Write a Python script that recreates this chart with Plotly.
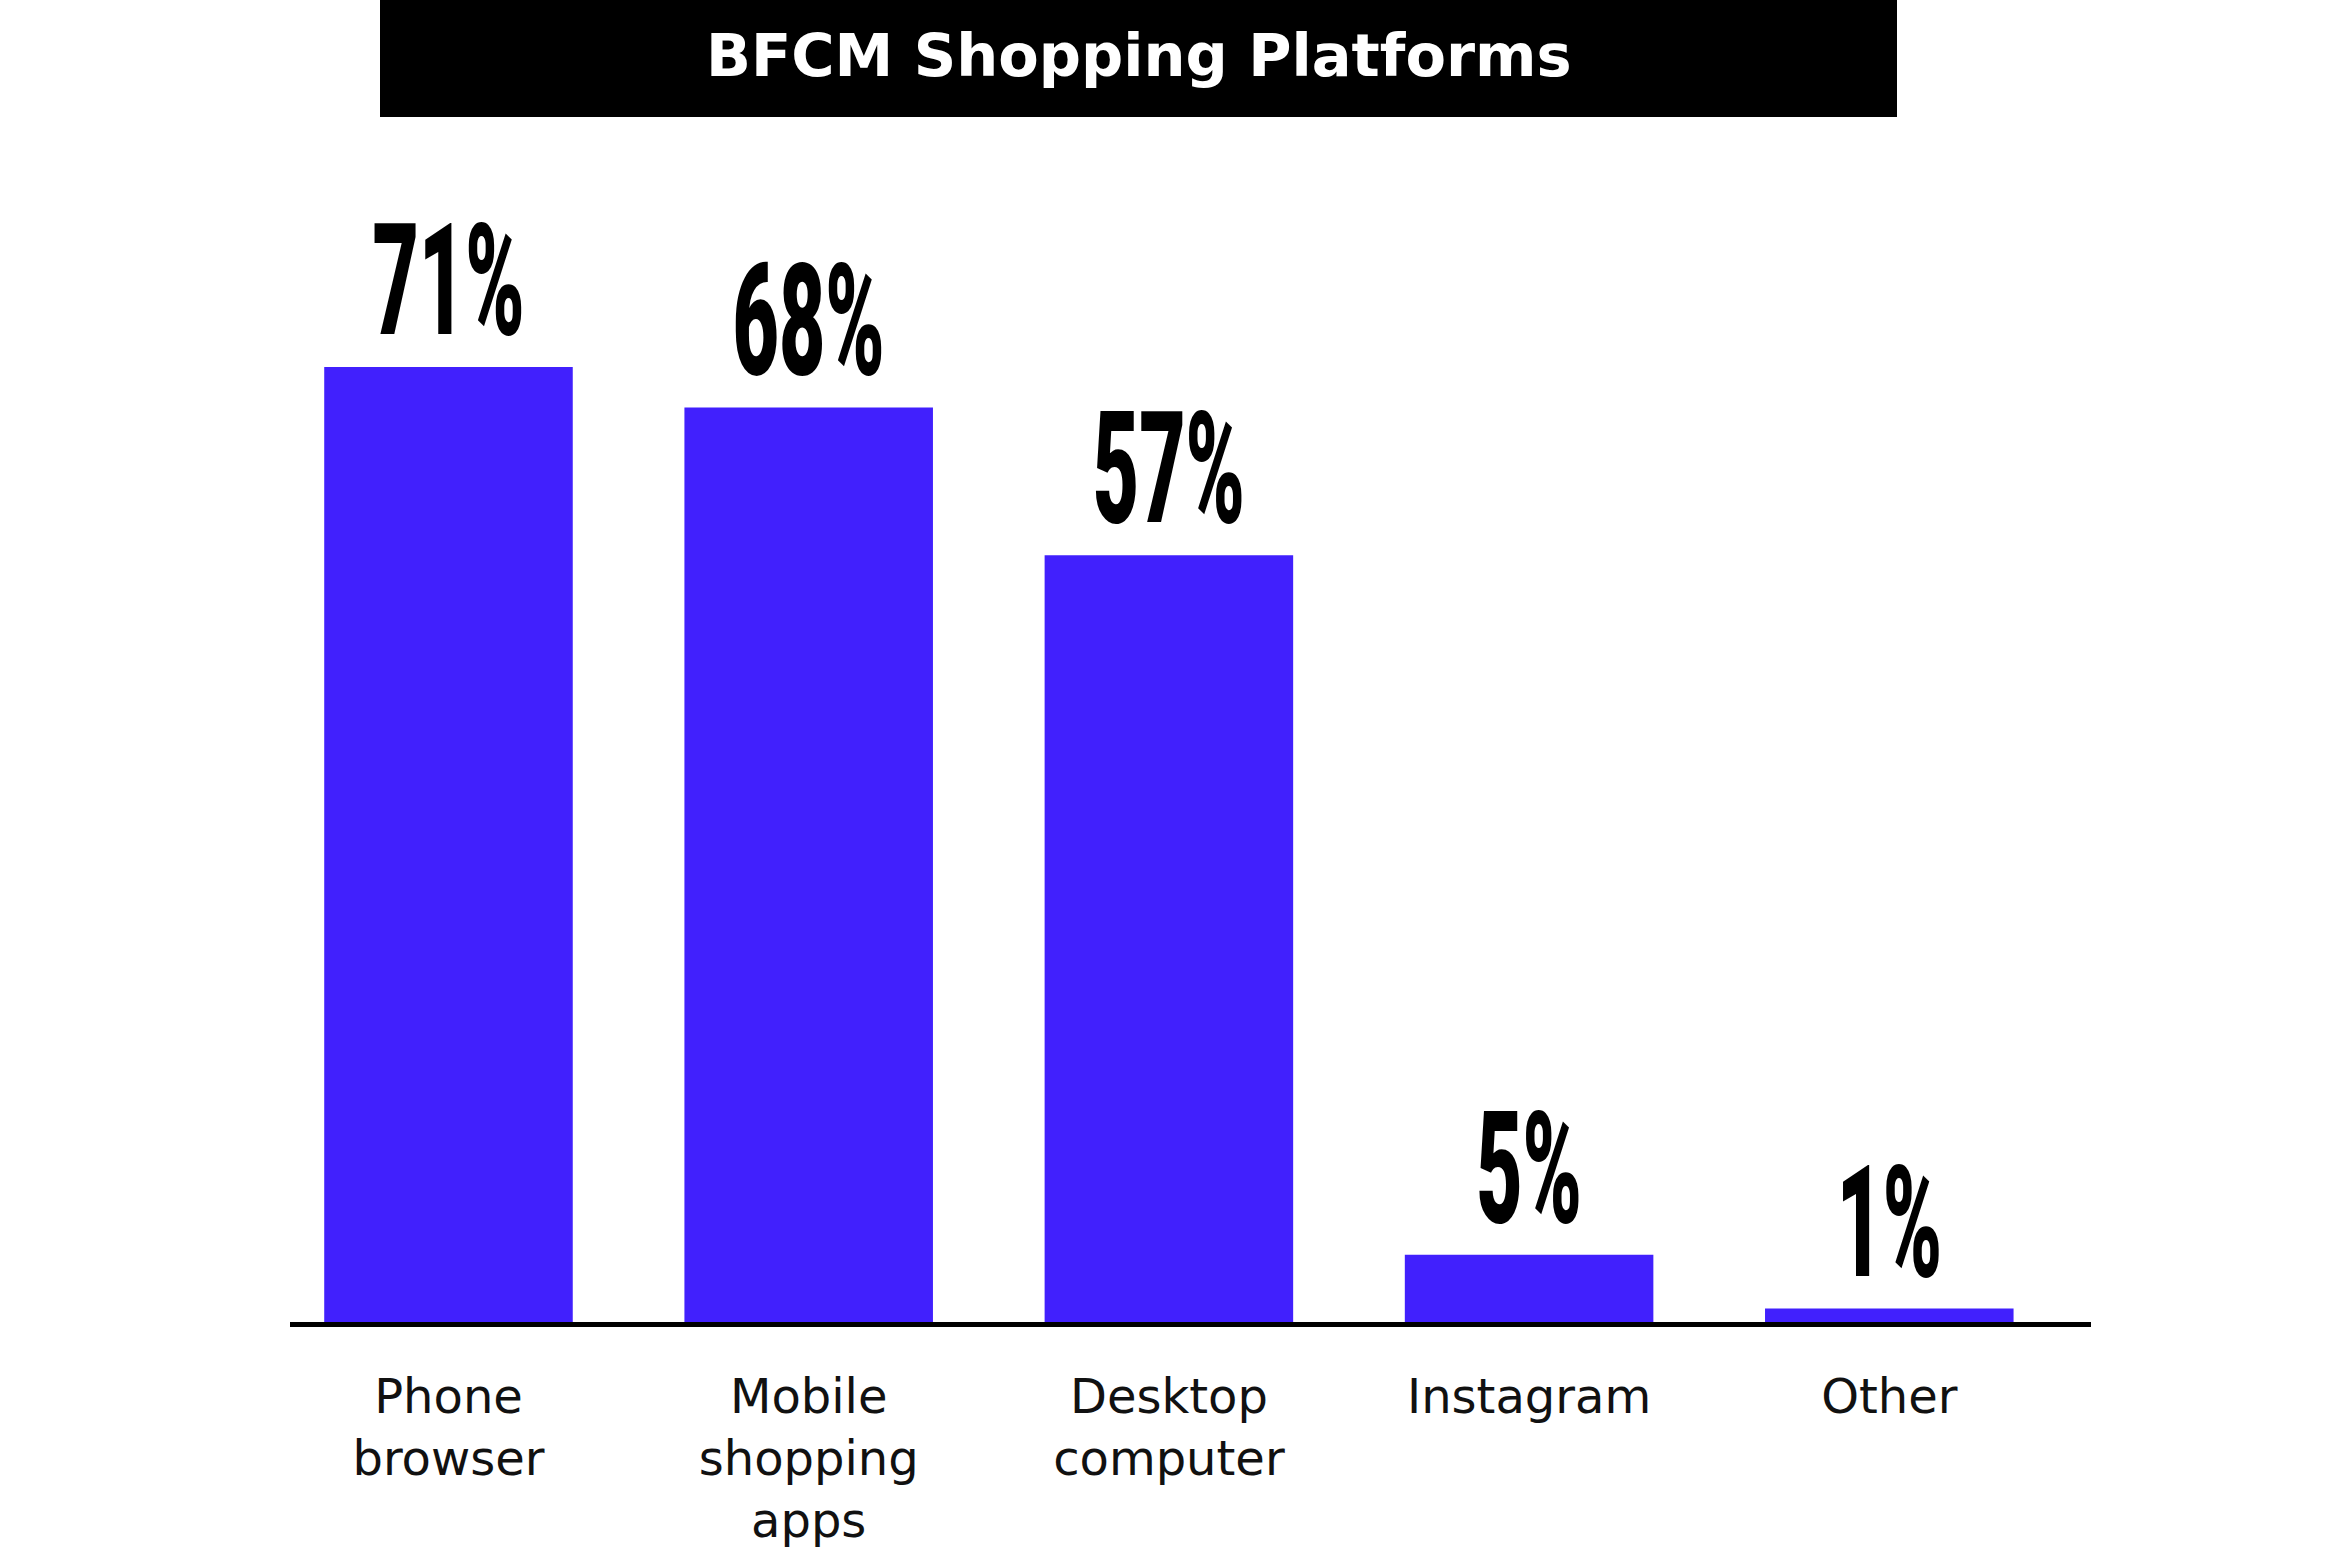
import plotly.graph_objects as go

categories = ["Phone<br>browser", "Mobile<br>shopping<br>apps", "Desktop<br>computer", "Instagram", "Other"]
values = [71, 68, 57, 5, 1]
value_labels = [f"{v}%" for v in values]
title_text = "BFCM Shopping Platforms"

W, H = 2337, 1556
L, R, T, B = 290, 246, 246, 234
plot_w = W - L - R
plot_h = H - T - B

fig = go.Figure()
fig.add_trace(go.Bar(
    x=list(range(len(categories))),
    y=values,
    text=value_labels,
    textposition="outside",
    constraintext="none",
    cliponaxis=False,
    textfont=dict(family="Roboto, Liberation Sans, Arial, sans-serif",
                  size=80, color="#000000", weight=900),
    marker=dict(color="#4120FD", line=dict(width=0)),
    width=0.69,
    hoverinfo="skip",
))

def py(px):
    return (H - B - px) / plot_h

fig.add_shape(type="rect", xref="paper", yref="paper",
              x0=(380 - L) / plot_w, x1=(1897 - L) / plot_w,
              y0=py(117), y1=py(-2),
              fillcolor="#000000", line=dict(width=0), layer="above")
fig.add_annotation(xref="paper", yref="paper",
                   x=((380 + 1897) / 2 - L) / plot_w, y=py(55),
                   text=f"<b>{title_text}</b>", showarrow=False,
                   xanchor="center", yanchor="middle",
                   font=dict(family="DejaVu Sans, Liberation Sans, sans-serif", size=59, color="#ffffff"))

fig.update_layout(
    template="none",
    width=W, height=H,
    margin=dict(l=L, r=R, t=T, b=B, pad=0, autoexpand=False),
    paper_bgcolor="#ffffff", plot_bgcolor="#ffffff",
    showlegend=False,
    xaxis=dict(
        range=[-0.44, 4.56],
        tickmode="array",
        tickvals=list(range(len(categories))),
        ticktext=categories,
        showline=True, linecolor="#000000", linewidth=5,
        ticks="", showgrid=False, zeroline=False,
        automargin=False,
        tickfont=dict(family="DejaVu Sans, Liberation Sans, sans-serif", size=48, color="#111111"),
        ticklabelstandoff=28,
        fixedrange=True,
    ),
    yaxis=dict(
        range=[0, 80],
        visible=False, showgrid=False, zeroline=False,
        automargin=False,
        fixedrange=True,
    ),
)

# Stretch the value labels vertically (about their baseline) to mimic the
# tall condensed display face of the original.
post_js = """
var gd = document.getElementById('{plot_id}');
function stretchLabels(){
  var els = gd.querySelectorAll('text.bartext');
  els.forEach(function(el){
    var t = el.getAttribute('transform') || '';
    if (el.getAttribute('data-stretched') === t) { return; }
    var nt = t + ' translate(0,-10) scale(1,1.95)';
    el.setAttribute('transform', nt);
    el.setAttribute('data-stretched', nt);
  });
}
stretchLabels();
gd.on('plotly_afterplot', stretchLabels);
"""

fig.write_html("out.html", post_script=post_js)
